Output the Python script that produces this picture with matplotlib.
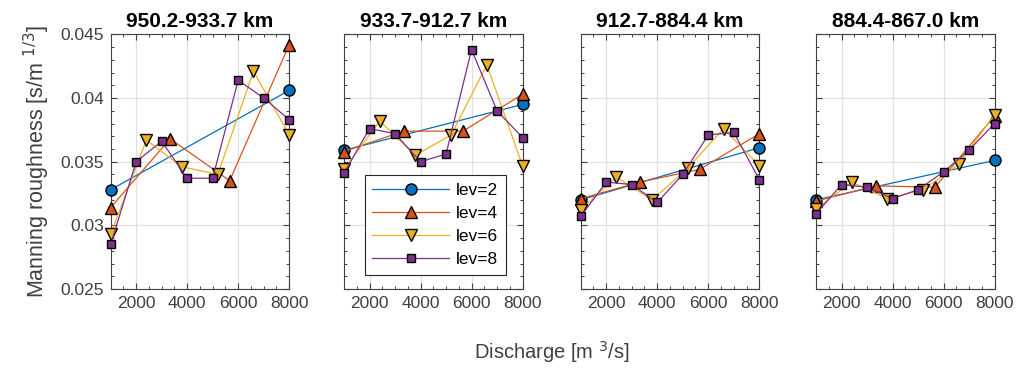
import matplotlib
matplotlib.use('Agg')
import matplotlib.pyplot as plt
from matplotlib.ticker import MultipleLocator

plt.rcParams['font.family'] = ['Liberation Sans', 'DejaVu Sans']

# 区段标题
titles = ['950.2-933.7 km', '933.7-912.7 km', '912.7-884.4 km', '884.4-867.0 km']
levels = ['lev=2', 'lev=4', 'lev=6', 'lev=8']

# 各级别的流量点
q_lev2 = [1000, 8000]
q_lev4 = [1000, 3333, 5667, 8000]
q_lev6 = [1000, 2400, 3800, 5200, 6600, 8000]
q_lev8 = [1000, 2000, 3000, 4000, 5000, 6000, 7000, 8000]

# 曼宁糙率 (每个区段)
n_seg1 = [
    [0.0328, 0.0406],
    [0.0314, 0.0368, 0.0335, 0.0442],
    [0.0293, 0.0367, 0.0346, 0.0340, 0.0421, 0.0371],
    [0.0285, 0.0350, 0.0366, 0.0337, 0.0337, 0.0414, 0.0400, 0.0383],
]
n_seg2 = [
    [0.0359, 0.0395],
    [0.0358, 0.0374, 0.0374, 0.0403],
    [0.0344, 0.0382, 0.0355, 0.0371, 0.0426, 0.0347],
    [0.0341, 0.0376, 0.0372, 0.0350, 0.0356, 0.0438, 0.0390, 0.0369],
]
n_seg3 = [
    [0.0320, 0.0361],
    [0.0321, 0.0334, 0.0344, 0.0372],
    [0.0312, 0.0338, 0.0320, 0.0345, 0.0376, 0.0347],
    [0.0307, 0.0334, 0.0332, 0.0318, 0.0340, 0.0371, 0.0373, 0.0336],
]
n_seg4 = [
    [0.0320, 0.0351],
    [0.0319, 0.0331, 0.0330, 0.0386],
    [0.0313, 0.0334, 0.0321, 0.0328, 0.0348, 0.0387],
    [0.0309, 0.0332, 0.0330, 0.0321, 0.0328, 0.0342, 0.0359, 0.0380],
]

q_all = [q_lev2, q_lev4, q_lev6, q_lev8]
n_all = [n_seg1, n_seg2, n_seg3, n_seg4]

colors = ['#0072BD', '#D95319', '#EDB120', '#7E2F8E']
markers = ['o', '^', 'v', 's']
msizes = [8, 8, 8, 6]

fig = plt.figure(figsize=(10.19, 3.69), dpi=100)
lefts = [0.1086, 0.3376, 0.5699, 0.8008]
axes = []
for k in range(4):
    ax = fig.add_axes([lefts[k], 0.2168, 0.1752, 0.690])
    axes.append(ax)
    for j in range(4):
        ax.plot(q_all[j], n_all[k][j], color=colors[j], marker=markers[j],
                markersize=msizes[j], markerfacecolor=colors[j],
                markeredgecolor='black', markeredgewidth=1.0,
                linewidth=0.9, label=levels[j], clip_on=False, zorder=3)
    ax.set_xlim(1000, 8000)
    ax.set_ylim(0.025, 0.045)
    ax.xaxis.set_major_locator(MultipleLocator(2000))
    ax.xaxis.set_minor_locator(MultipleLocator(500))
    ax.yaxis.set_major_locator(MultipleLocator(0.005))
    ax.yaxis.set_minor_locator(MultipleLocator(0.001))
    ax.grid(True, which='major', color='#e0e0e0', linewidth=0.9)
    ax.set_axisbelow(True)
    ax.tick_params(which='both', direction='in', top=True, right=True,
                   colors='#404040', labelsize=12.5)
    ax.tick_params(which='major', length=4, width=0.8, pad=5)
    ax.tick_params(which='minor', length=2.5, width=0.7)
    for sp in ax.spines.values():
        sp.set_color('#404040')
        sp.set_linewidth(0.8)
    ax.set_title(titles[k], fontsize=15, fontweight='bold', pad=5)
    if k == 0:
        ax.set_yticks([0.025, 0.03, 0.035, 0.04, 0.045])
        ax.set_yticklabels(['0.025', '0.03', '0.035', '0.04', '0.045'])
        ax.set_ylabel('Manning roughness [s/m $^{1/3}$]', fontsize=15.5,
                      color='#404040', labelpad=6)
    else:
        ax.set_yticklabels([])

leg = axes[1].legend(loc='lower left', bbox_to_anchor=(0.115, 0.055),
                     handlelength=4.4, fontsize=12.5, fancybox=False,
                     framealpha=1, edgecolor='#262626', borderpad=0.45,
                     labelspacing=0.45, handletextpad=0.4, borderaxespad=0)
leg.get_frame().set_linewidth(0.8)

fig.text(0.542, 0.012, 'Discharge [m $^3$/s]', ha='center', va='bottom',
         fontsize=14.5, color='#404040')

fig.savefig('out.png', dpi=100)
